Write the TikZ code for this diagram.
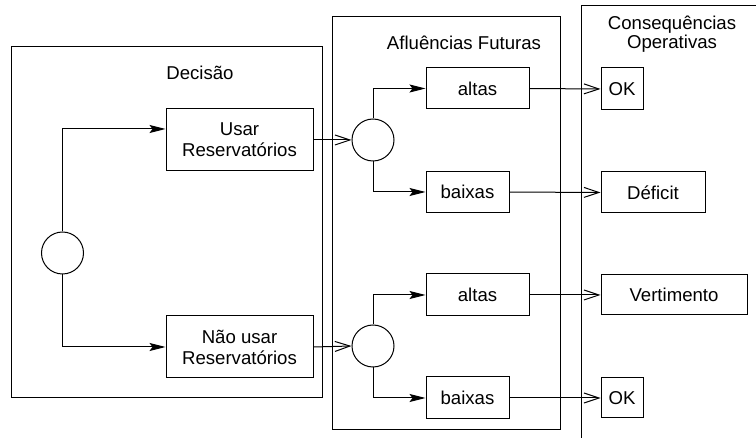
\documentclass[tikz,border=0pt]{standalone}
\usepackage{fontspec}
\setmainfont{Liberation Sans}
\usetikzlibrary{arrows.meta}

\tikzset{
  frame/.style={draw, line width=1pt},
  optbox/.style={draw, line width=1pt, rectangle, inner sep=0pt, align=center,
    font=\fontsize{18.6}{21}\selectfont},
  chance/.style={draw, line width=1pt, circle, inner sep=0pt, minimum size=42pt},
  title/.style={align=center, inner sep=0pt, font=\fontsize{18.6}{19}\selectfont},
  branch/.style={line width=1pt, -{Stealth[length=16pt,width=8pt,inset=3pt]}},
  flow/.style={line width=1pt, -{Straight Barb[length=15pt,width=10pt,line width=1pt]}},
}

\begin{document}
\begin{tikzpicture}[x=1pt,y=-1pt]
  \useasboundingbox (0,0) rectangle (756,438);

  % stage frames
  \draw[frame] (11,47) rectangle (322,398);
  \draw[frame] (332,17) rectangle (560,430);
  \draw[frame] (581,440) -- (581,6) -- (758,6);

  \node[title] (tdec) at (200,73) {Decisão};
  \node[title] (taf) at (464,43) {Afluências Futuras};
  \node[title] (tcons) at (672,34) {Consequências\\Operativas};

  % decision
  \node[chance] (c0) at (62.5,253) {};
  \node[optbox, minimum width=147pt, minimum height=62pt] (usar) at (239.5,140) {Usar\\Reservatórios};
  \node[optbox, minimum width=147pt, minimum height=62pt] (nao) at (239.5,347) {Não usar\\Reservatórios};

  % inflow scenarios
  \node[chance] (c1) at (373,140) {};
  \node[chance] (c2) at (373,346) {};
  \node[optbox, minimum width=103pt, minimum height=41pt] (alt1) at (477.5,88.5) {altas};
  \node[optbox, minimum width=83pt, minimum height=41pt] (bai1) at (467.5,192) {baixas};
  \node[optbox, minimum width=103pt, minimum height=42pt] (alt2) at (477.5,295) {altas};
  \node[optbox, minimum width=83pt, minimum height=42pt] (bai2) at (467.5,398) {baixas};

  % outcomes
  \node[optbox, minimum width=42pt, minimum height=42pt] (ok1) at (622,89) {OK};
  \node[optbox, minimum width=104pt, minimum height=41pt] (def) at (653,192.5) {Déficit};
  \node[optbox, minimum width=146pt, minimum height=40pt] (vert) at (674,295) {Vertimento};
  \node[optbox, minimum width=42pt, minimum height=40pt] (ok2) at (622,398) {OK};

  % connectors
  \draw[branch] (c0.north) |- ([yshift=11pt]usar.west);
  \draw[branch] (c0.south) |- (nao.west);
  \draw[flow] (usar.east) -- (c1.west);
  \draw[flow] (nao.east) -- (c2.west);
  \draw[branch] (c1.north) |- (alt1.west);
  \draw[branch] (c1.south) |- (bai1.west);
  \draw[branch] (c2.north) |- (alt2.west);
  \draw[branch] (c2.south) |- (bai2.west);
  \draw[flow] (alt1.east) -- (ok1.west);
  \draw[flow] (bai1.east) -- (def.west);
  \draw[flow] (alt2.east) -- (vert.west);
  \draw[flow] (bai2.east) -- (ok2.west);
\end{tikzpicture}
\end{document}
